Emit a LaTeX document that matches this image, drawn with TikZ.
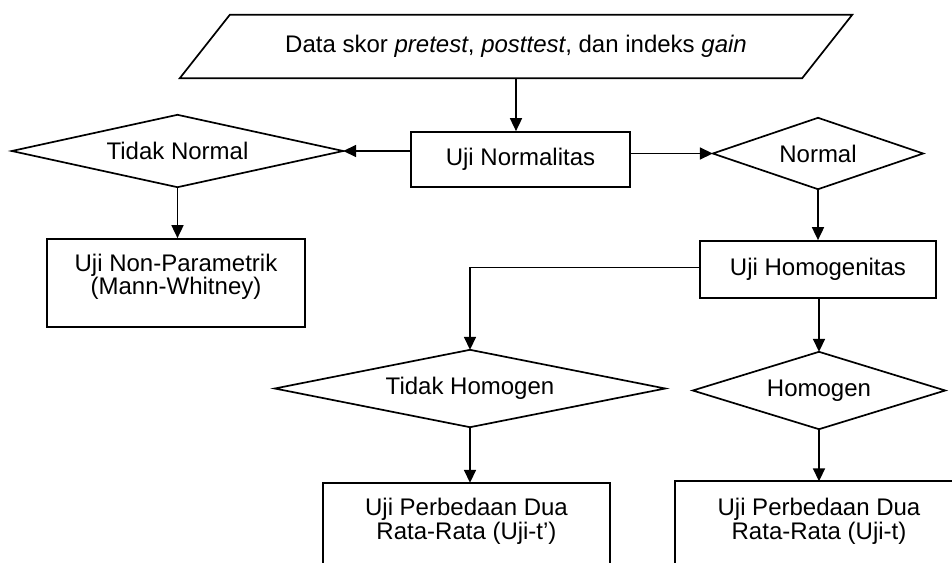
\documentclass[tikz,border=0pt]{standalone}
\usepackage{fontspec}
\setmainfont{Liberation Sans}
\usetikzlibrary{arrows.meta,calc}
\begin{document}
\begin{tikzpicture}[x=1pt,y=-1pt,
  line/.style={line width=1.7pt, black, line join=miter},
  arr/.style={line, -{Triangle[length=13pt,width=12pt]}},
  box/.style={draw, line width=1.7pt, rectangle, inner sep=0pt, align=center, font=\fontsize{24}{23.5}\selectfont},
  dec/.style={rectangle, inner sep=0pt, align=center, font=\fontsize{24}{23.5}\selectfont}
]
\useasboundingbox (0,0) rectangle (952,562);
\clip (0,0) rectangle (952,562);

% input parallelogram
\node[dec, minimum width=622, minimum height=63] (data) at (516,46.5)
  {Data skor \textit{pretest}, \textit{posttest}, dan indeks \textit{gain}};
\draw[line] ([xshift=25pt]data.north west) -- ([xshift=25pt]data.north east)
  -- ([xshift=-25pt]data.south east) -- ([xshift=-25pt]data.south west) -- cycle;

% boxes
\node[box, minimum width=219, minimum height=55] (norm) at (520.5,159.5) {Uji Normalitas};
\node[box, minimum width=258, minimum height=88, text depth=17pt] (np) at (176,283) {Uji Non-Parametrik\\(Mann-Whitney)};
\node[box, minimum width=236, minimum height=57] (hg) at (818,269.5) {Uji Homogenitas};

% decisions
\node[dec, minimum width=331, minimum height=72] (tn) at (177.5,151) {Tidak Normal};
\draw[line] (tn.north) -- (tn.east) -- (tn.south) -- (tn.west) -- cycle;
\node[dec, minimum width=210, minimum height=71] (nl) at (818,153.5) {Normal};
\draw[line] (nl.north) -- (nl.east) -- (nl.south) -- (nl.west) -- cycle;
\node[dec, minimum width=390, minimum height=77] (th) at (470,388.5) {Tidak Homogen};
\draw[line] (th.north) -- (th.east) -- (th.south) -- (th.west) -- cycle;
\node[dec, minimum width=252, minimum height=77] (ho) at (819,390.5) {Homogen};
\draw[line] (ho.north) -- (ho.east) -- (ho.south) -- (ho.west) -- cycle;

% bottom boxes (cut off by the picture's edge)
\node[dec, minimum width=287, minimum height=77] (b1) at (466.5,521.5) {Uji Perbedaan Dua\\Rata-Rata (Uji-t’)};
\draw[line] ([yshift=-40pt]b1.south west) |- (b1.north east) -- ([yshift=-40pt]b1.south east);
\node[dec, minimum width=288, minimum height=78] (b2) at (819,521.5) {Uji Perbedaan Dua\\Rata-Rata (Uji-t)};
\draw[line] ([yshift=-40pt]b2.south west) |- ([yshift=1pt]b2.north east) -- ([yshift=-40pt]b2.south east);

% connectors
\draw[arr] (data.south) -- (data.south |- norm.north);
\draw[arr] (norm.west |- tn.east) -- (tn.east);
\draw[arr] (norm.east |- nl.west) -- (nl.west);
\draw[arr] (tn.south) -- (tn.south |- np.north);
\draw[arr] (nl.south) -- (nl.south |- hg.north);
\draw[arr] ([yshift=2pt]hg.west) -| (th.north);
\draw[arr] (hg.south -| ho.north) -- (ho.north);
\draw[arr] (th.south) -- (th.south |- b1.north);
\draw[arr] (ho.south) -- ([yshift=1pt]ho.south |- b2.north);
\end{tikzpicture}
\end{document}
